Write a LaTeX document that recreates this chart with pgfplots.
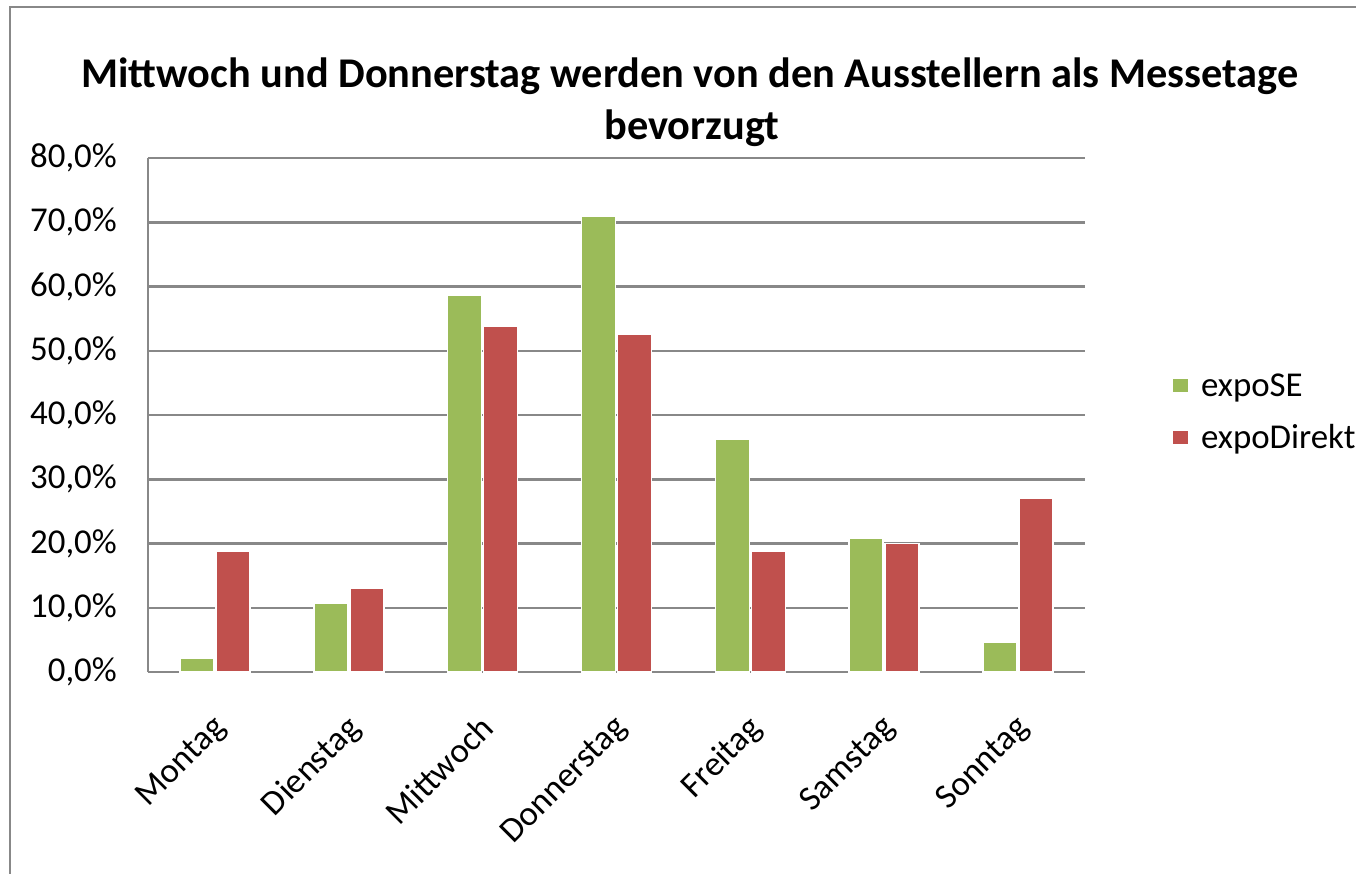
\documentclass[border=0pt]{standalone}
\usepackage{fontspec}
\setmainfont{Carlito}
\usepackage{pgfplots}
\pgfplotsset{compat=1.18}
\definecolor{cgreen}{HTML}{9BBB59}
\definecolor{cred}{HTML}{C0504D}
\definecolor{cgrid}{HTML}{888888}
\begin{document}
\begin{tikzpicture}
\begin{axis}[
  name=ax,
  scale only axis, width=937bp, height=514bp,
  xmin=-0.5, xmax=6.5, ymin=0, ymax=80,
  xtick={0,1,2,3,4,5,6},
  xticklabels={Montag,Dienstag,Mittwoch,Donnerstag,Freitag,Samstag,Sonntag},
  ytick={0,10,20,30,40,50,60,70,80},
  yticklabels={{0,0\%},{10,0\%},{20,0\%},{30,0\%},{40,0\%},{50,0\%},{60,0\%},{70,0\%},{80,0\%}},
  axis x line*=bottom, axis y line*=left,
  major tick length=0pt,
  ymajorgrids, grid style={cgrid, line width=2.5bp},
  axis line style={cgrid, line width=2.5bp},
  ticklabel style={font=\fontsize{35}{40}\selectfont, text=black},
  yticklabel style={anchor=east, inner sep=0pt, xshift=-31bp},
  xticklabel style={xshift=-4bp, yshift=-41bp, rotate=45, anchor=north east, inner sep=0pt},
  ybar, bar width=34bp,
  legend style={draw=none, at={(1.089,0.585)}, anchor=north west,
    font=\fontsize{35}{40}\selectfont, row sep=27bp, fill=none,
    nodes={inner xsep=12bp, inner ysep=0pt}},
  legend cell align=left,
  legend image code/.code={\fill[#1] (0bp,-7bp) rectangle (16bp,7bp);},
]
\addplot[fill=cgreen, draw=white, line width=1.5bp, bar shift=-18bp] coordinates {
 (0,2.2) (1,10.7) (2,58.7) (3,70.9) (4,36.3) (5,20.8) (6,4.6)};
\addplot[fill=cred, draw=white, line width=1.5bp, bar shift=18bp] coordinates {
 (0,18.8) (1,13.1) (2,53.8) (3,52.6) (4,18.8) (5,20.0) (6,27.0)};
\legend{expoSE,expoDirekt}
\end{axis}
\pgfresetboundingbox
\begin{scope}[x=1bp,y=1bp,shift={(ax.south west)},shift={(-148,672)}]
\path[use as bounding box] (0,0) rectangle (1356,-873);
\clip (0,0) rectangle (1356,-873);
\draw[cgrid, line width=2.5bp] (10,-1000) -- (10,-7) -- (1500,-7);
\node[anchor=base, font=\fontsize{42.5}{48}\selectfont\bfseries] at (690,-88) {Mittwoch und Donnerstag werden von den Ausstellern als Messetage};
\node[anchor=base, font=\fontsize{42.5}{48}\selectfont\bfseries] at (692,-140) {bevorzugt};
\end{scope}
\end{tikzpicture}
\end{document}
